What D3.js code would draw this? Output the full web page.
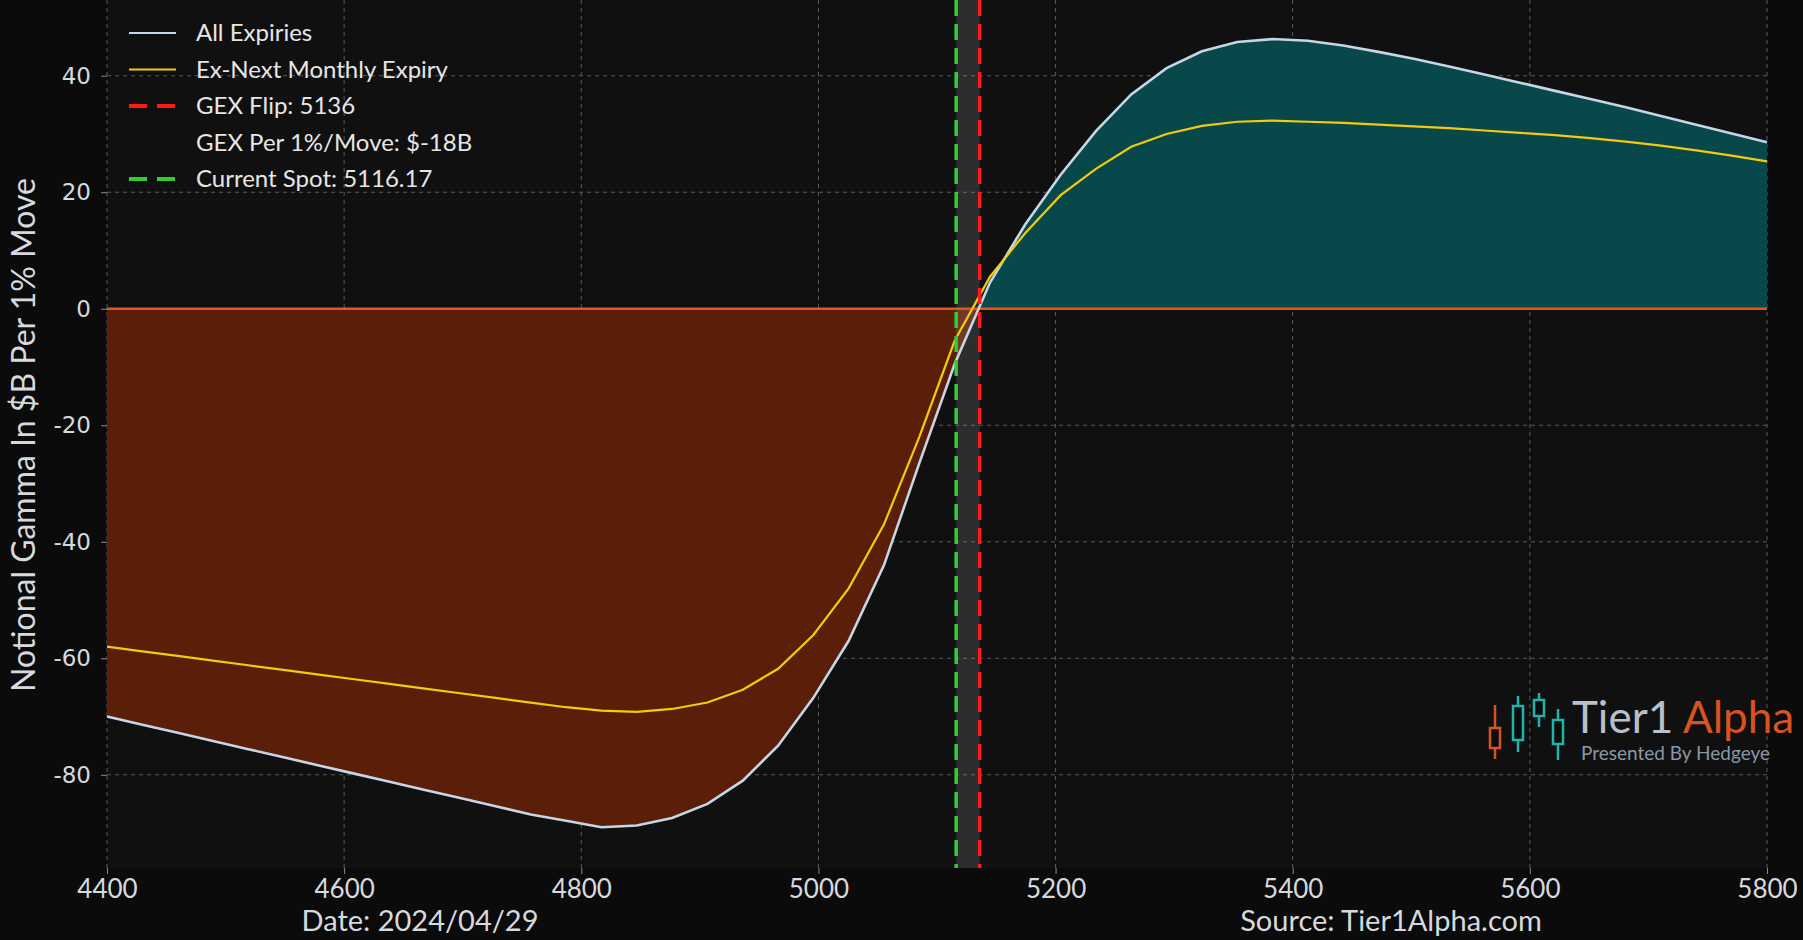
<!DOCTYPE html>
<html>
<head>
<meta charset="utf-8">
<script src="https://cdn.jsdelivr.net/npm/d3@7"></script>
<style>
  html, body { margin: 0; padding: 0; background: #0c0c0c; overflow: hidden; }
  text { font-family: Lato, "Noto Sans", sans-serif; }
</style>
</head>
<body>
<div id="gex-container"></div>
<script>
// strikes on the x axis
const strikes = [4400, 4429.8, 4459.6, 4489.4, 4519.1, 4548.9, 4578.7, 4608.5, 4638.3, 4668.1,
  4697.9, 4727.7, 4757.4, 4787.2, 4817.0, 4846.8, 4876.6, 4906.4, 4936.2, 4966.0,
  4995.7, 5025.5, 5055.3, 5085.1, 5114.9, 5144.7, 5174.5, 5204.3, 5234.0, 5263.8,
  5293.6, 5323.4, 5353.2, 5383.0, 5412.8, 5442.6, 5472.3, 5502.1, 5531.9, 5561.7,
  5591.5, 5621.3, 5651.1, 5680.9, 5710.6, 5740.4, 5770.2, 5800];

// notional gamma ($B per 1% move)
const allExpiries = [-70.0, -71.4, -72.8, -74.2, -75.6, -77.0, -78.4, -79.8, -81.2, -82.6,
  -84.0, -85.4, -86.8, -87.9, -89.0, -88.7, -87.4, -85.0, -81.0, -75.0,
  -66.8, -57.0, -44.0, -26.5, -9.5, 4.5, 14.5, 23.0, 30.5, 36.8,
  41.3, 44.2, 45.8, 46.3, 46.0, 45.2, 44.1, 42.9, 41.6, 40.2,
  38.8, 37.4, 36.0, 34.6, 33.1, 31.6, 30.1, 28.6];

const exNextMonthly = [-58.0, -58.8, -59.6, -60.4, -61.2, -62.0, -62.8, -63.6, -64.4, -65.2,
  -66.0, -66.8, -67.6, -68.4, -69.0, -69.2, -68.7, -67.6, -65.4, -61.8,
  -56.0, -48.0, -37.0, -22.0, -5.5, 5.5, 13.0, 19.5, 24.0, 27.8,
  30.0, 31.4, 32.1, 32.3, 32.1, 31.9, 31.6, 31.3, 31.0, 30.6,
  30.2, 29.8, 29.3, 28.7, 28.0, 27.2, 26.3, 25.3];

const xTicks = [4400, 4600, 4800, 5000, 5200, 5400, 5600, 5800];
const yTicks = [-80, -60, -40, -20, 0, 20, 40];

const gexFlip = 5136;
const currentSpot = 5116.17;

const legendItems = [
  { label: "All Expiries", kind: "line", color: "#c5d6e6" },
  { label: "Ex-Next Monthly Expiry", kind: "line", color: "#f2cc0c" },
  { label: "GEX Flip: 5136", kind: "dash", color: "#ff1a1a" },
  { label: "GEX Per 1%/Move: $-18B", kind: "none" },
  { label: "Current Spot: 5116.17", kind: "dash", color: "#33cc33" },
];

const dateLabel = "Date: 2024/04/29";
const sourceLabel = "Source: Tier1Alpha.com";
const yAxisLabel = "Notional Gamma In $B Per 1% Move";

// size and margin
const viewWidth = 1803;
const viewHeight = 940;
const margins = { top: 0, right: 36, bottom: 72, left: 107 };

const svg = d3.select("#gex-container")
  .append("svg")
  .attr("width", viewWidth)
  .attr("height", viewHeight)
  .attr("viewBox", [0, 0, viewWidth, viewHeight]);

svg.append("rect")
  .attr("width", viewWidth)
  .attr("height", viewHeight)
  .attr("fill", "#0b0b0b");

const x = d3.scaleLinear()
  .domain([4400, 5800])
  .range([margins.left, viewWidth - margins.right]);
const y = d3.scaleLinear()
  .domain([-96, 53])
  .range([viewHeight - margins.bottom, margins.top]);

const plotTop = y.range()[1];
const plotBottom = y.range()[0];

// plot background, a touch lighter than the page
svg.append("rect")
  .attr("x", x.range()[0]).attr("y", plotTop)
  .attr("width", x.range()[1] - x.range()[0])
  .attr("height", plotBottom - plotTop)
  .attr("fill", "#101010");

// grid
const grid = svg.append("g").attr("class", "grid");
grid.selectAll("line.gx")
  .data(xTicks)
  .enter()
  .append("line")
  .attr("x1", d => x(d)).attr("x2", d => x(d))
  .attr("y1", plotTop).attr("y2", plotBottom)
  .attr("stroke", "#5a5a5a")
  .attr("stroke-width", 1)
  .attr("stroke-dasharray", "4,4");
grid.selectAll("line.gy")
  .data(yTicks)
  .enter()
  .append("line")
  .attr("x1", x.range()[0]).attr("x2", x.range()[1])
  .attr("y1", d => y(d)).attr("y2", d => y(d))
  .attr("stroke", "#5a5a5a")
  .attr("stroke-width", 1)
  .attr("stroke-dasharray", "4,4");

// fill between all expiries and zero, split by sign
const data = strikes.map((s, i) => ({ strike: s, all: allExpiries[i], exNext: exNextMonthly[i] }));

const defs = svg.append("defs");
defs.append("clipPath").attr("id", "clip-pos")
  .append("rect")
  .attr("x", x.range()[0]).attr("y", plotTop)
  .attr("width", x.range()[1] - x.range()[0])
  .attr("height", y(0) - plotTop);
defs.append("clipPath").attr("id", "clip-neg")
  .append("rect")
  .attr("x", x.range()[0]).attr("y", y(0))
  .attr("width", x.range()[1] - x.range()[0])
  .attr("height", plotBottom - y(0));

const area = d3.area()
  .x(d => x(d.strike))
  .y0(y(0))
  .y1(d => y(d.all));

svg.append("path")
  .datum(data)
  .attr("d", area)
  .attr("fill", "#08474a")
  .attr("clip-path", "url(#clip-pos)");
svg.append("path")
  .datum(data)
  .attr("d", area)
  .attr("fill", "#5b1e08")
  .attr("clip-path", "url(#clip-neg)");

// band between spot and flip
svg.append("rect")
  .attr("x", x(currentSpot))
  .attr("y", plotTop)
  .attr("width", x(gexFlip) - x(currentSpot))
  .attr("height", plotBottom - plotTop)
  .attr("fill", "#ffffff")
  .attr("fill-opacity", 0.12);

// zero line
svg.append("line")
  .attr("x1", x(4400)).attr("x2", x(5800))
  .attr("y1", y(0)).attr("y2", y(0))
  .attr("stroke", "#e8541a")
  .attr("stroke-width", 2.5);

// curves
const line = key => d3.line().x(d => x(d.strike)).y(d => y(d[key]));
svg.append("path")
  .datum(data)
  .attr("d", line("all"))
  .attr("fill", "none")
  .attr("stroke", legendItems[0].color)
  .attr("stroke-width", 2.6);
svg.append("path")
  .datum(data)
  .attr("d", line("exNext"))
  .attr("fill", "none")
  .attr("stroke", legendItems[1].color)
  .attr("stroke-width", 2.2);

// spot and flip markers
[[currentSpot, legendItems[4].color], [gexFlip, legendItems[2].color]].forEach(([v, c]) => {
  svg.append("line")
    .attr("x1", x(v)).attr("x2", x(v))
    .attr("y1", plotTop).attr("y2", plotBottom)
    .attr("stroke", c)
    .attr("stroke-width", 3.5)
    .attr("stroke-dasharray", "16,8");
});

// axes
const xAxis = svg.append("g")
  .attr("transform", `translate(0,${plotBottom})`)
  .call(d3.axisBottom(x).tickValues(xTicks).tickSize(6).tickPadding(6).tickFormat(d => String(d)));
xAxis.select(".domain").remove();
xAxis.selectAll("line").attr("stroke", "#8a8a8a");
xAxis.selectAll("text")
  .attr("fill", "#d6d9de")
  .style("font-size", "26px");

const yAxis = svg.append("g")
  .attr("transform", `translate(${margins.left},0)`)
  .call(d3.axisLeft(y).tickValues(yTicks).tickSize(6).tickPadding(10).tickFormat(d => String(d)));
yAxis.select(".domain").remove();
yAxis.selectAll("line").attr("stroke", "#8a8a8a");
yAxis.selectAll("text")
  .attr("fill", "#d6d9de")
  .style("font-family", "'DejaVu Sans', sans-serif")
  .style("font-size", "23px");

svg.append("text")
  .attr("transform", "translate(35,435) rotate(-90)")
  .attr("text-anchor", "middle")
  .attr("fill", "#d6d9de")
  .style("font-size", "32px")
  .text(yAxisLabel);

svg.append("text")
  .attr("x", 420).attr("y", 931)
  .attr("text-anchor", "middle")
  .attr("fill", "#d6d9de")
  .style("font-size", "29px")
  .text(dateLabel);
svg.append("text")
  .attr("x", 1391).attr("y", 931)
  .attr("text-anchor", "middle")
  .attr("fill", "#d6d9de")
  .style("font-size", "29px")
  .text(sourceLabel);

// legend
const legend = svg.append("g").attr("transform", "translate(129,33)");
legendItems.forEach((item, i) => {
  const row = legend.append("g").attr("transform", `translate(0,${i * 36.5})`);
  if (item.kind !== "none") {
    row.append("line")
      .attr("x1", 0).attr("x2", 47)
      .attr("y1", 0).attr("y2", 0)
      .attr("stroke", item.color)
      .attr("stroke-width", item.kind === "dash" ? 4 : 2.2)
      .attr("stroke-dasharray", item.kind === "dash" ? "18,10" : null);
  }
  row.append("text")
    .attr("x", 67).attr("y", 8)
    .attr("fill", "#e6e6e6")
    .style("font-size", "24px")
    .text(item.label);
});

// logo
const logo = svg.append("g").attr("class", "logo");
const candles = [
  { cx: 1495, w1: 705, w2: 759, b1: 728, b2: 748, c: "#d9531e" },
  { cx: 1518, w1: 696, w2: 752, b1: 706, b2: 740, c: "#1fb5aa" },
  { cx: 1539, w1: 693, w2: 727, b1: 700, b2: 716, c: "#1fb5aa" },
  { cx: 1558, w1: 709, w2: 760, b1: 720, b2: 744, c: "#1fb5aa" },
];
candles.forEach(k => {
  logo.append("line")
    .attr("x1", k.cx).attr("x2", k.cx).attr("y1", k.w1).attr("y2", k.w2)
    .attr("stroke", k.c).attr("stroke-width", 2.5);
  logo.append("rect")
    .attr("x", k.cx - 5).attr("y", k.b1)
    .attr("width", 10).attr("height", k.b2 - k.b1)
    .attr("fill", "#0c0c0c").attr("stroke", k.c).attr("stroke-width", 2.5);
});
const brand = logo.append("text")
  .attr("x", 1572).attr("y", 733)
  .style("font-size", "44px");
brand.append("tspan").attr("fill", "#b7c0cb").text("Tier1 ");
brand.append("tspan").attr("fill", "#d9531e").text("Alpha");
logo.append("text")
  .attr("x", 1581).attr("y", 760)
  .attr("fill", "#8b97a4")
  .style("font-size", "19px")
  .text("Presented By Hedgeye");
</script>
</body>
</html>
